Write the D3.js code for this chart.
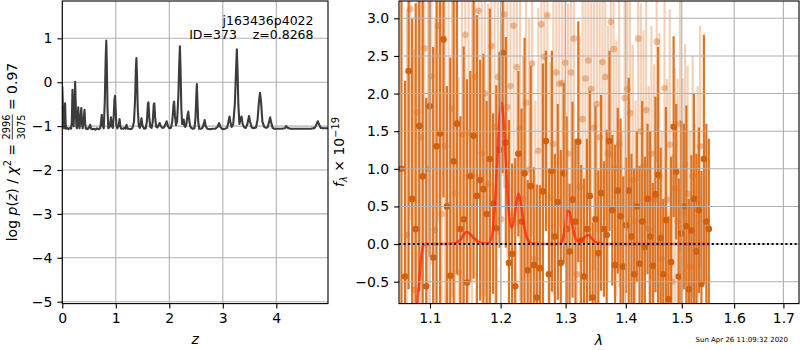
<!DOCTYPE html>
<html>
<head>
<meta charset="utf-8">
<script src="https://cdn.jsdelivr.net/npm/d3@7"></script>
<style>
  body { margin: 0; background: #fff; }
  svg { font-family: "DejaVu Sans", sans-serif; }
  text { white-space: pre; }
</style>
</head>
<body>
<svg width="800" height="350"></svg>
<script>
// ---- left panel: log p(z) ----
const zGrid = [0.000, 0.012, 0.022, 0.035, 0.045, 0.052, 0.060, 0.068, 0.090, 0.110,
  0.130, 0.150, 0.165, 0.178, 0.190, 0.200, 0.212, 0.225, 0.240, 0.252,
  0.262, 0.272, 0.285, 0.298, 0.310, 0.322, 0.335, 0.355, 0.368, 0.380,
  0.395, 0.415, 0.428, 0.440, 0.460, 0.475, 0.495, 0.520, 0.540, 0.560,
  0.590, 0.620, 0.650, 0.680, 0.710, 0.725, 0.737, 0.750, 0.775, 0.795,
  0.810, 0.822, 0.832, 0.845, 0.860, 0.880, 0.895, 0.910, 0.925, 0.945,
  0.960, 0.975, 0.985, 0.995, 1.010, 1.030, 1.050, 1.070, 1.085, 1.100,
  1.130, 1.160, 1.180, 1.200, 1.220, 1.250, 1.280, 1.310, 1.340, 1.360,
  1.375, 1.385, 1.395, 1.410, 1.430, 1.450, 1.465, 1.480, 1.500, 1.530,
  1.560, 1.580, 1.600, 1.610, 1.625, 1.645, 1.670, 1.690, 1.710, 1.720,
  1.735, 1.755, 1.780, 1.800, 1.820, 1.840, 1.870, 1.900, 1.925, 1.950,
  1.975, 2.000, 2.030, 2.055, 2.080, 2.090, 2.105, 2.125, 2.145, 2.170,
  2.185, 2.198, 2.210, 2.225, 2.240, 2.255, 2.270, 2.285, 2.300, 2.320,
  2.340, 2.355, 2.370, 2.390, 2.410, 2.440, 2.470, 2.490, 2.505, 2.515,
  2.525, 2.540, 2.560, 2.590, 2.620, 2.645, 2.660, 2.680, 2.710, 2.760,
  2.810, 2.860, 2.900, 2.930, 2.955, 2.990, 3.040, 3.080, 3.110, 3.125,
  3.140, 3.165, 3.195, 3.225, 3.245, 3.262, 3.275, 3.290, 3.310, 3.330,
  3.350, 3.370, 3.400, 3.430, 3.460, 3.490, 3.510, 3.540, 3.580, 3.620,
  3.650, 3.675, 3.695, 3.715, 3.740, 3.775, 3.810, 3.840, 3.865, 3.885,
  3.905, 3.930, 3.960, 4.000, 4.100, 4.160, 4.185, 4.210, 4.260, 4.350,
  4.450, 4.550, 4.650, 4.720, 4.755, 4.775, 4.800, 4.830, 4.880, 4.966];
const logPz = [-0.10, -0.60, -1.02, -1.05, -0.70, -0.48, -0.85, -1.06, -1.04, -1.07,
  -1.05, -1.04, -1.06, -0.90, -0.17, -0.80, -1.00, -0.60, 0.01, -0.55,
  -0.98, -1.05, -0.90, -0.57, -0.95, -1.05, -0.85, -0.59, -0.95, -1.05,
  -0.90, -0.63, -0.95, -1.06, -1.05, -1.07, -1.04, -0.97, -1.06, -1.07,
  -1.06, -1.08, -1.05, -1.07, -1.04, -0.90, -0.74, -0.98, -1.05, -0.40,
  0.50, 0.95, 0.40, -0.60, -1.05, -1.03, -0.95, -0.80, -1.00, -1.04,
  -0.80, -0.40, -0.31, -0.55, -0.98, -1.05, -1.00, -0.84, -1.00, -1.06,
  -1.06, -1.04, -1.06, -0.97, -1.06, -1.06, -1.07, -1.05, -0.90, -0.40,
  0.30, 0.55, 0.20, -0.60, -1.00, -1.04, -0.95, -0.82, -1.00, -1.06,
  -1.05, -0.90, -0.50, -0.46, -0.80, -1.02, -1.04, -0.90, -0.50, -0.48,
  -0.80, -1.02, -1.03, -0.98, -0.93, -1.00, -1.04, -1.03, -0.97, -0.89,
  -1.00, -1.05, -1.04, -0.90, -0.50, -0.44, -0.75, -0.98, -0.90, -0.30,
  0.40, 0.82, 0.30, -0.60, -0.95, -0.95, -0.85, -1.00, -1.02, -0.95,
  -0.75, -0.67, -0.85, -1.00, -1.04, -1.06, -1.05, -0.80, -0.30, -0.04,
  -0.40, -0.90, -1.06, -1.06, -1.04, -0.95, -0.86, -1.00, -1.06, -1.07,
  -1.06, -1.06, -1.02, -0.93, -1.02, -1.07, -1.06, -1.04, -0.88, -0.78,
  -0.90, -1.02, -0.95, -0.50, 0.20, 0.75, 0.30, -0.50, -0.95, -0.85,
  -0.78, -0.95, -1.03, -1.04, -0.95, -0.77, -0.90, -1.03, -1.05, -1.03,
  -0.85, -0.45, -0.24, -0.45, -0.90, -1.02, -1.04, -1.02, -0.90, -0.80,
  -0.92, -1.04, -1.06, -1.06, -1.06, -1.05, -1.00, -1.04, -1.06, -1.06,
  -1.06, -1.06, -1.06, -1.04, -0.95, -0.89, -0.96, -1.04, -1.05, -1.05];
const pzXTicks = [0, 1, 2, 3, 4];
const pzYTicks = [-5, -4, -3, -2, -1, 0, 1];

// ---- right panel: spectrum (wavelengths in Angstrom) ----
const waveA = [10620, 10667, 10714, 10761, 10808, 10855, 10902, 10949, 10996, 11043,
  11090, 11137, 11184, 11231, 11278, 11325, 11372, 11419, 11466, 11513,
  11560, 11607, 11654, 11701, 11748, 11795, 11842, 11889, 11936, 11983,
  12030, 12077, 12124, 12171, 12218, 12265, 12312, 12359, 12406, 12453,
  12500, 12547, 12594, 12641, 12688, 12735, 12782, 12829, 12876, 12923,
  12970, 13017, 13064, 13111, 13158, 13205, 13252, 13299, 13346, 13393,
  13440, 13487, 13534, 13581, 13628, 13675, 13722, 13769, 13816, 13863,
  13910, 13957, 14004, 14051, 14098, 14145, 14192, 14239, 14286, 14333,
  14380, 14427, 14474, 14521, 14568, 14615, 14662, 14709, 14756, 14803,
  14850, 14897, 14944, 14991, 15038, 15085, 15132, 15179, 15226, 15273,
  15320, 15367, 15414, 15461, 15508];
const fluxA = [1.0, -0.43, 2.3, 0.6, 0.2, 1.57, 0.9, -0.56, 1.83, -0.18,
  1.30, 1.47, 2.72, 0.5, -0.42, 1.1, 1.60, 0.2, 0.33, -0.51,
  0.9, 1.44, 0.64, 0.85, 0.73, 0.4, 1.13, 0.54, 0.21, 1.25,
  2.54, 1.35, -0.25, -0.13, -0.56, 1.20, 0.30, 0.94, -0.35, 0.77,
  -0.28, -0.71, -0.32, 0.70, 1.37, -0.40, 0.97, 0.1, 0.56, -0.25,
  0.94, 0.2, -0.1, 0.59, 0.3, 1.36, 0.05, -0.43, 0.2, 0.64,
  -0.71, 0.33, -0.12, 0.68, 0.2, 0.12, 1.37, 0.45, -0.28, 0.71,
  0.37, -0.30, 0.25, 0.71, 0.1, -0.40, 0.5, -0.26, 0.3, -0.04,
  0.6, 0.1, -0.29, 0.66, 0.92, 0.08, -0.40, 0.32, -0.73, -0.24,
  1.56, 0.96, -0.43, 0.14, 0.5, 0.24, -0.60, 0.18, 0.6, -0.1,
  0.45, -0.53, 1.13, 0.30, 0.2];
const errA = [3.2, 2.6, 2.9, 2.4, 3.0, 2.2, 2.7, 2.5, 2.0, 2.8,
  2.3, 2.6, 2.1, 1.6, 2.9, 2.2, 2.0, 1.5, 2.3, 2.7,
  1.4, 1.9, 2.4, 1.6, 1.8, 1.5, 2.0, 1.2, 1.9, 1.3,
  1.6, 1.4, 1.9, 1.2, 1.7, 1.1, 1.5, 1.8, 1.2, 1.6,
  1.3, 1.5, 1.1, 1.7, 1.2, 1.4, 1.6, 1.1, 1.3, 1.5,
  1.2, 1.5, 0.9, 1.3, 1.1, 1.6, 1.0, 1.3, 1.2, 1.4,
  1.0, 1.5, 1.1, 1.3, 0.9, 1.4, 1.2, 1.0, 1.6, 1.1,
  1.3, 1.2, 0.9, 1.5, 1.1, 1.4, 1.0, 1.3, 1.6, 1.2,
  1.0, 1.4, 1.1, 1.3, 1.7, 1.2, 1.0, 1.5, 1.1, 1.4,
  1.2, 0.9, 1.3, 1.5, 1.1, 1.6, 1.2, 1.0, 1.4, 1.3,
  1.1, 1.5, 1.65, 1.3, 1.2];

const waveB = [10690, 10737, 10784, 10831, 10878, 10925, 10972, 11019, 11066, 11113,
  11160, 11207, 11254, 11301, 11348, 11395, 11442, 11489, 11536, 11583,
  11630, 11677, 11724, 11771, 11818, 11865, 11912, 11959, 12006, 12053,
  12100, 12147, 12194, 12241, 12288, 12335, 12382, 12429, 12476, 12523,
  12570, 12617, 12664, 12711, 12758, 12805, 12852, 12899, 12946, 12993,
  13040, 13087, 13134, 13181, 13228, 13275, 13322, 13369, 13416, 13463,
  13510, 13557, 13604, 13651, 13698, 13745, 13792, 13839, 13886, 13933,
  13980, 14027, 14074, 14121, 14168, 14215, 14262, 14309, 14356, 14403,
  14450, 14497, 14544, 14591, 14638, 14685, 14732, 14779, 14826, 14873,
  14920, 14967, 15014, 15061, 15108, 15155, 15202, 15249, 15296, 15343];
const fluxB = [0.12, 3.12, -0.61, 1.75, 1.42, 2.6, 1.0, 2.23, 0.19, 2.9,
  0.40, 1.3, 0.52, 1.80, 0.68, -0.38, 1.46, 2.78, 1.48, 0.92,
  2.22, 3.10, 1.21, 2.0, 0.8, 2.63, 1.56, 2.22, 0.33, 3.05,
  1.82, 2.1, 2.90, 2.35, 1.54, 0.6, 1.88, 0.99, 2.4, -0.2,
  1.24, 2.92, 2.49, 3.04, 0.62, 1.33, 2.28, 2.13, 2.14, 2.41,
  1.2, 2.28, 2.73, -0.4, 0.76, 1.66, 2.20, 2.44, 2.06, 1.55,
  1.86, 1.42, 2.42, 2.22, 1.20, 2.95, 2.59, 1.01, 1.33, -0.3,
  1.94, 2.06, 1.74, 0.85, 0.3, 2.73, 1.5, 1.04, 1.78, 0.2,
  1.20, 0.59, 2.69, 0.9, -0.2, 2.07, 0.59, 1.32, -0.5, 0.74,
  0.3, 1.60, 0.4, 1.06, 0.67, -0.3, 0.9, -0.1, 0.6, 1.30];
const errB = [3.0, 2.8, 3.2, 2.6, 2.9, 2.7, 3.1, 2.5, 2.8, 2.6,
  3.0, 2.4, 2.7, 2.5, 2.9, 2.6, 2.3, 2.8, 2.4, 2.6,
  2.2, 2.5, 2.3, 2.7, 2.4, 2.2, 2.4, 2.1, 2.6, 2.3,
  2.0, 2.2, 2.4, 2.1, 2.3, 1.9, 2.2, 2.0, 2.3, 2.1,
  1.9, 2.2, 2.0, 2.1, 1.8, 2.0, 2.2, 1.9, 2.1, 1.8,
  2.0, 1.9, 2.1, 1.8, 2.0, 1.9, 1.7, 2.0, 1.8, 1.9,
  1.7, 2.0, 1.8, 1.9, 1.7, 1.8, 2.0, 1.7, 1.9, 1.8,
  1.6, 1.9, 1.7, 1.8, 1.6, 1.9, 1.7, 1.8, 1.6, 1.9,
  1.7, 1.8, 1.6, 1.9, 1.7, 1.8, 1.6, 1.8, 1.7, 1.6,
  1.9, 1.7, 1.8, 1.6, 1.7, 1.8, 1.6, 1.7, 1.5, 1.6];

// best-fit line model (microns)
const modelWave = [1.078, 1.082, 1.085, 1.088, 1.0905, 1.093, 1.120, 1.135, 1.142, 1.147,
  1.151, 1.156, 1.162, 1.168, 1.175, 1.182, 1.187, 1.191, 1.195, 1.199,
  1.2015, 1.204, 1.208, 1.212, 1.216, 1.2195, 1.2235, 1.227, 1.231, 1.235,
  1.240, 1.246, 1.252, 1.290, 1.295, 1.299, 1.303, 1.306, 1.310, 1.315,
  1.320, 1.326, 1.332, 1.337, 1.342, 1.348, 1.355, 1.362, 1.552];
const modelFlux = [-1.2, -0.9, -0.55, -0.2, -0.03, 0.0, 0.0, 0.01, 0.06, 0.13,
  0.16, 0.13, 0.07, 0.03, 0.01, 0.01, 0.1, 0.45, 1.1, 1.75,
  1.88, 1.7, 1.05, 0.45, 0.22, 0.3, 0.55, 0.67, 0.5, 0.25,
  0.07, 0.01, 0.0, 0.0, 0.05, 0.22, 0.44, 0.43, 0.28, 0.1,
  0.04, 0.05, 0.1, 0.12, 0.08, 0.03, 0.01, 0.0, 0.0];
const specXTicks = [1.1, 1.2, 1.3, 1.4, 1.5, 1.6, 1.7];
const specYTicks = [-0.5, 0.0, 0.5, 1.0, 1.5, 2.0, 2.5, 3.0];

const svg = d3.select('svg');
const axTop = 1, axBottom = 303.6;
const gridColor = '#b0b0b0';
const barColor = '#dc7424', dotColor = '#d2600c';

const xz = d3.scaleLinear().domain([0, 4.966]).range([62.3, 328]);
const yz = d3.scaleLinear().domain([-5.043, 1.85]).range([axBottom, axTop]);
const xw = d3.scaleLog().domain([1.0588, 1.733]).range([399, 799]);
const yf = d3.scaleLinear().domain([-0.791, 3.23]).range([axBottom, axTop]);

function clip(id, xs) {
  svg.append('clipPath').attr('id', id).append('rect')
    .attr('x', xs.range()[0]).attr('y', axTop)
    .attr('width', xs.range()[1] - xs.range()[0]).attr('height', axBottom - axTop);
}

function drawGrid(xs, ys, xt, yt) {
  const g = svg.append('g');
  g.selectAll('.gx').data(xt).enter().append('line')
    .attr('x1', d => xs(d)).attr('x2', d => xs(d))
    .attr('y1', axTop).attr('y2', axBottom)
    .attr('stroke', gridColor).attr('stroke-width', 1.1);
  g.selectAll('.gy').data(yt).enter().append('line')
    .attr('x1', xs.range()[0]).attr('x2', xs.range()[1])
    .attr('y1', d => ys(d)).attr('y2', d => ys(d))
    .attr('stroke', gridColor).attr('stroke-width', 1.1);
}

function drawAxes(xs, ys, xt, yt, xfmt, yfmt) {
  const ax = svg.append('g').attr('transform', `translate(0,${axBottom})`)
    .call(d3.axisBottom(xs).tickValues(xt).tickFormat(xfmt).tickSize(4.9).tickPadding(4.9));
  const ay = svg.append('g').attr('transform', `translate(${xs.range()[0]},0)`)
    .call(d3.axisLeft(ys).tickValues(yt).tickFormat(yfmt).tickSize(4.9).tickPadding(4.9));
  [ax, ay].forEach(a => {
    a.select('.domain').remove();
    a.selectAll('line').attr('stroke', '#000').attr('stroke-width', 1.1);
    a.selectAll('text').attr('fill', '#000')
      .style('font-size', '14px').style('font-family', '"DejaVu Sans", sans-serif');
  });
  svg.append('rect')
    .attr('x', xs.range()[0]).attr('y', axTop)
    .attr('width', xs.range()[1] - xs.range()[0]).attr('height', axBottom - axTop)
    .attr('fill', 'none').attr('stroke', '#000').attr('stroke-width', 1.1);
}

// lay out a mathtext-like label from pieces, centred on 0
function mathLabel(g, parts, size) {
  const inner = g.append('g');
  let x = 0;
  parts.forEach(p => {
    if (p.frac) {
      const fs = size * 0.7;
      const n = inner.append('text').attr('x', x).attr('y', -size * 0.45)
        .style('font-size', fs + 'px').text(p.frac[0]);
      const d = inner.append('text').attr('x', x).attr('y', size * 0.6)
        .style('font-size', fs + 'px').text(p.frac[1]);
      const w = Math.max(n.node().getComputedTextLength(), d.node().getComputedTextLength());
      inner.append('line').attr('x1', x).attr('x2', x + w)
        .attr('y1', -size * 0.3).attr('y2', -size * 0.3)
        .attr('stroke', '#000').attr('stroke-width', 0.8);
      x += w;
      return;
    }
    const t = inner.append('text').attr('x', x).attr('y', p.dy || 0)
      .style('font-size', (p.scale || 1) * size + 'px')
      .style('font-style', p.it ? 'italic' : 'normal')
      .text(p.s);
    x += t.node().getComputedTextLength();
  });
  inner.attr('transform', `translate(${-x / 2},0)`);
}

// ---- left panel ----
drawGrid(xz, yz, pzXTicks, pzYTicks);
clip('clipL', xz);
const pz = zGrid.map((z, i) => [z, logPz[i]]);
svg.append('path')
  .datum(pz)
  .attr('clip-path', 'url(#clipL)')
  .attr('d', d3.line().x(d => xz(d[0])).y(d => yz(d[1])))
  .attr('fill', 'none').attr('stroke', '#3c3c3c').attr('stroke-width', 2.1)
  .attr('stroke-linejoin', 'round');
drawAxes(xz, yz, pzXTicks, pzYTicks, d3.format('d'), d3.format('d'));

svg.append('text').attr('x', 313.5).attr('y', 24.5).attr('text-anchor', 'end')
  .style('font-size', '12.5px').text('j163436p4022');
svg.append('text').attr('x', 313.5).attr('y', 39).attr('text-anchor', 'end')
  .style('font-size', '12.5px').text('ID=373    z=0.8268');

svg.append('text').attr('x', xz(2.483)).attr('y', 343.5).attr('text-anchor', 'middle')
  .style('font-size', '14px').style('font-style', 'italic').text('z');

const yl = svg.append('g').attr('transform', 'translate(16.5,152) rotate(-90)');
mathLabel(yl, [
  { s: 'log ' }, { s: 'p', it: true }, { s: '(' }, { s: 'z', it: true }, { s: ')' },
  { s: ' / ' }, { s: 'χ', it: true }, { s: '2', scale: 0.7, dy: -5.5 }, { s: ' = ' },
  { frac: ['2996', '3075'] }, { s: ' = 0.97' }
], 14);

// ---- right panel ----
clip('clipR', xw);
const specG = svg.append('g').attr('clip-path', 'url(#clipR)');

function errSeries(wave, flux, err, alpha, dotAlpha) {
  const pts = wave.map((w, i) => ({ w: w / 1e4, f: flux[i], e: err[i] }));
  specG.append('g').selectAll('line').data(pts).enter().append('line')
    .attr('x1', d => xw(d.w)).attr('x2', d => xw(d.w))
    .attr('y1', d => yf(d.f - d.e)).attr('y2', d => yf(d.f + d.e))
    .attr('stroke', barColor).attr('stroke-width', 2.2).attr('stroke-opacity', alpha);
  specG.append('g').selectAll('circle').data(pts).enter().append('circle')
    .attr('cx', d => xw(d.w)).attr('cy', d => yf(d.f)).attr('r', 3.3)
    .attr('fill', dotColor).attr('fill-opacity', dotAlpha);
}
errSeries(waveB, fluxB, errB, 0.32, 0.38);
errSeries(waveA, fluxA, errA, 1, 1);

drawGrid(xw, yf, specXTicks, specYTicks);

svg.append('line')
  .attr('x1', xw.range()[0]).attr('x2', xw.range()[1])
  .attr('y1', yf(0)).attr('y2', yf(0))
  .attr('stroke', '#000').attr('stroke-width', 2).attr('stroke-dasharray', '2,2.6');

const model = modelWave.map((w, i) => [w, modelFlux[i]]);
specG.append('path')
  .datum(model)
  .attr('d', d3.line().curve(d3.curveMonotoneX).x(d => xw(d[0])).y(d => yf(d[1])))
  .attr('fill', 'none').attr('stroke', '#ff2a12').attr('stroke-opacity', 0.8)
  .attr('stroke-width', 2.6);

drawAxes(xw, yf, specXTicks, specYTicks, d3.format('.1f'), d3.format('.1f'));

svg.append('text').attr('x', 599).attr('y', 345).attr('text-anchor', 'middle')
  .style('font-size', '14px').style('font-style', 'italic').text('λ');

const fl = svg.append('g').attr('transform', 'translate(344,152) rotate(-90)');
mathLabel(fl, [
  { s: 'f', it: true }, { s: 'λ', it: true, scale: 0.7, dy: 3 },
  { s: ' × 10' }, { s: '−19', scale: 0.7, dy: -5.5 }
], 14);

svg.append('text').attr('x', 788).attr('y', 342).attr('text-anchor', 'end')
  .style('font-size', '7px').text('Sun Apr 26 11:09:32 2020');
</script>
</body>
</html>
